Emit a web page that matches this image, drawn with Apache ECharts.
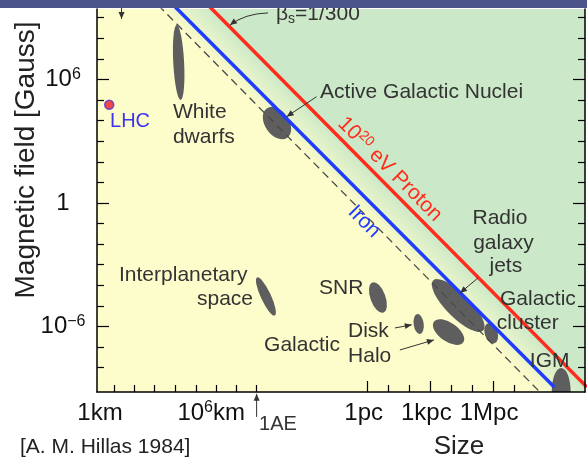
<!DOCTYPE html>
<html>
<head>
<meta charset="utf-8">
<script src="https://cdn.jsdelivr.net/npm/echarts@6.0.0/dist/echarts.min.js"></script>
<style>
html,body{margin:0;padding:0;background:#ffffff;}
#chart{width:587px;height:459px;}
</style>
</head>
<body>
<div id="chart"></div>
<script>
// Axes in log10 units: x = log10(size / km), y = log10(B / Gauss)
const xRange = [0.536, 23.89];
const yRange = [-9.18, 9.42];

const xMinorTicks = [1.36, 2.32, 3.28, 4.27, 5.27, 6.23, 7.19, 8.175, 14.49, 15.49, 17.49, 18.49, 20.49];
const xMajorTicks = [13.49, 16.49, 19.49];
const xLabelValues = [0.68, 6, 13.49, 16.49, 19.49];
const xLabelTexts = ['1km', '10^6km', '1pc', '1kpc', '1Mpc'];

const yMinorTicks = [-8, -7, -5, -4, -3, -2, -1, 1, 2, 3, 4, 5, 7, 8, 9];
const yMajorTicks = [-6, 0, 6];
const yLabelTexts = ['10^−6', '1', '10^6'];

// Limit lines (B proportional to 1/R), endpoints in log units
const protonLine = [[5.86, 9.6], [23.98, -8.94]];
const ironLine = [[4.20, 9.6], [22.37, -8.89]];
const betaLine = [[3.47, 9.6], [21.75, -9.2]];

// Objects: centre (log size, log B), half extents (decades), tilt (deg)
const objectNames = ['White dwarfs', 'Active Galactic Nuclei', 'Interplanetary space', 'SNR', 'Disk', 'Halo', 'Radio galaxy jets', 'Galactic cluster', 'IGM'];
const objectLogSize = [4.445, 9.15, 8.62, 13.98, 15.93, 17.36, 17.82, 19.40, 22.75];
const objectLogB = [6.82, 3.88, -4.54, -4.59, -5.88, -6.27, -4.98, -6.33, -9.13];
const objectHalfSize = [0.26, 0.57, 0.24, 0.36, 0.24, 0.45, 0.57, 0.31, 0.45];
const objectHalfB = [1.82, 0.87, 1.02, 0.78, 0.49, 0.87, 1.72, 0.51, 1.12];
const objectTilt = [3, 35, 25, 20, 8, 55, 45, 18, 0];

const lhcPoint = [1.12, 4.77];

// Annotations anchored in data coordinates
const notes = [
  {t: 'LHC', at: [1.16, 3.98], color: '#3d33ee', size: 20},
  {t: 'White', at: [4.17, 4.40]},
  {t: 'dwarfs', at: [4.17, 3.19]},
  {t: 'Active Galactic Nuclei', at: [11.21, 5.39]},
  {t: 'Interplanetary', at: [1.59, -3.50]},
  {t: 'space', at: [5.32, -4.66]},
  {t: 'SNR', at: [11.16, -4.13]},
  {t: 'Disk', at: [12.55, -6.22]},
  {t: 'Halo', at: [12.55, -7.43]},
  {t: 'Galactic', at: [8.53, -6.90]},
  {t: 'Radio', at: [19.82, -0.73], align: 'center'},
  {t: 'galaxy', at: [19.99, -1.94], align: 'center'},
  {t: 'jets', at: [20.10, -3.06], align: 'center'},
  {t: 'Galactic', at: [19.82, -4.66]},
  {t: 'cluster', at: [19.67, -5.83]},
  {t: 'IGM', at: [21.25, -7.67]},
  {t: '{n|10}{s|20}{n| eV Proton}', at: [14.55, 1.64], align: 'center', rot: -45, color: '#ff2b1c'},
  {t: 'Iron', at: [13.32, -0.91], align: 'center', rot: -45, color: '#1f3cff'},
  {t: '{n|β}{u|s}{n|=1/300}', at: [9.10, 9.18]},
  {t: '1AE', at: [8.29, -10.78], size: 20}
];
const arrows = [
  {from: [11.04, 5.16], to: [9.61, 4.19]},
  {from: [18.77, -3.64], to: [17.91, -4.37]},
  {from: [14.79, -6.07], to: [15.60, -5.92]},
  {from: [15.03, -7.14], to: [16.66, -6.65]},
  {from: [8.175, -10.39], to: [8.175, -9.27]},
  {from: [1.71, 9.7], to: [1.71, 8.94]},
  {from: [8.72, 9.23], via: [7.62, 9.20], to: [6.90, 8.64]}
];

const FONT = '"Liberation Sans", Arial, Helvetica, sans-serif';
const TXT = '#333333';

function richPow(t, base) {
  const m = t.match(/^(.*?)10\^([−\-]?\d+)(.*)$/);
  if (!m) return '{' + base + '|' + t + '}';
  let s = '';
  if (m[1]) s += '{' + base + '|' + m[1] + '}';
  s += '{' + base + '|10}{s|' + m[2] + '}';
  if (m[3]) s += '{' + base + '|' + m[3] + '}';
  return s;
}
const axisRich = {
  b: {fontSize: 24, lineHeight: 26, fontFamily: FONT, color: '#111'},
  p: {fontSize: 24, lineHeight: 26, fontFamily: FONT, color: '#111', padding: [0, 8, 0, 0]},
  s: {fontSize: 16, lineHeight: 20, fontFamily: FONT, color: '#111', verticalAlign: 'top'}
};
const noteRich = {
  n: {fontSize: 21, lineHeight: 24, fontFamily: FONT},
  s: {fontSize: 14, lineHeight: 16, fontFamily: FONT, verticalAlign: 'top'},
  u: {fontSize: 14, lineHeight: 14, fontFamily: FONT, verticalAlign: 'bottom'}
};

function lineEnds(api, line, ext) {
  const a = api.coord(line[0]), b = api.coord(line[1]);
  const dx = b[0] - a[0], dy = b[1] - a[1], l = Math.hypot(dx, dy);
  const ux = dx / l, uy = dy / l;
  return {a: [a[0] - ux * ext, a[1] - uy * ext], b: [b[0] + ux * ext, b[1] + uy * ext], ux: ux, uy: uy};
}
function head(tip, dirx, diry, len, half, color) {
  const l = Math.hypot(dirx, diry), ux = dirx / l, uy = diry / l;
  const bx = tip[0] - ux * len, by = tip[1] - uy * len;
  return {type: 'polygon', shape: {points: [tip, [bx - uy * half, by + ux * half], [bx + uy * half, by - ux * half]]}, style: {fill: color}};
}

const chart = echarts.init(document.getElementById('chart'), null, {renderer: 'canvas', width: 587, height: 459});

const axisLineStyle = {color: '#000', width: 1.5};
const tickStyle = {color: '#000', width: 1.2};
const X = {type: 'value', min: xRange[0], max: xRange[1], splitLine: {show: false}, z: 6};
const Y = {type: 'value', min: yRange[0], max: yRange[1], splitLine: {show: false}, z: 6};

const option = {
  animation: false,
  backgroundColor: '#ffffff',
  grid: {left: 97, right: 2, top: 9, bottom: 67, containLabel: false, outerBoundsMode: 'none',
         show: true, backgroundColor: '#fdfccb', borderWidth: 0},
  xAxis: [
    Object.assign({}, X, {
      position: 'bottom',
      axisLine: {show: true, onZero: false, lineStyle: axisLineStyle},
      axisTick: {show: true, inside: true, length: 7, customValues: xMinorTicks, lineStyle: tickStyle},
      axisLabel: {show: true, customValues: xLabelValues, margin: 8, rich: axisRich,
        formatter: function (v) {
          const i = xLabelValues.findIndex(function (x) { return Math.abs(x - v) < 1e-6; });
          if (i < 0) return '';
          const t = xLabelTexts[i];
          return richPow(t, /pc$/.test(t) ? 'p' : 'b');
        }}
    }),
    Object.assign({}, X, {
      position: 'bottom',
      axisLine: {show: false, onZero: false},
      axisTick: {show: true, inside: true, length: 11, customValues: xMajorTicks, lineStyle: tickStyle},
      axisLabel: {show: false}
    })
  ],
  yAxis: [
    Object.assign({}, Y, {
      position: 'left',
      axisLine: {show: true, onZero: false, lineStyle: axisLineStyle},
      axisTick: {show: true, inside: true, length: 7, customValues: yMinorTicks, lineStyle: tickStyle},
      axisLabel: {show: true, customValues: yMajorTicks, margin: 34, align: 'center', rich: axisRich,
        formatter: function (v) {
          const i = yMajorTicks.findIndex(function (x) { return Math.abs(x - v) < 1e-6; });
          return i < 0 ? '' : richPow(yLabelTexts[i], 'b');
        }}
    }),
    Object.assign({}, Y, {
      position: 'left',
      axisLine: {show: false, onZero: false},
      axisTick: {show: true, inside: true, length: 12, customValues: yMajorTicks, lineStyle: tickStyle},
      axisLabel: {show: false}
    }),
    Object.assign({}, Y, {
      position: 'right',
      axisLine: {show: true, onZero: false, lineStyle: axisLineStyle},
      axisTick: {show: true, inside: true, length: 7, customValues: yMinorTicks.concat([-9]).filter(function(v){return v>-9;}), lineStyle: tickStyle},
      axisLabel: {show: false}
    }),
    Object.assign({}, Y, {
      position: 'right',
      axisLine: {show: false, onZero: false},
      axisTick: {show: true, inside: true, length: 12, customValues: yMajorTicks, lineStyle: tickStyle},
      axisLabel: {show: false}
    })
  ],
  series: [
    {
      type: 'custom', name: 'regions', z: 1, clip: true, silent: true,
      data: [[xRange[0], yRange[0]]],
      renderItem: function (params, api) {
        const r = lineEnds(api, protonLine, 400);
        const d = lineEnds(api, betaLine, 400);
        const nx = r.uy, ny = -r.ux;
        const far = 3000;
        const green = {type: 'polygon', shape: {points: [r.a, r.b,
          [r.b[0] + nx * far, r.b[1] + ny * far], [r.a[0] + nx * far, r.a[1] + ny * far]]},
          style: {fill: '#cbe8c8'}};
        const mid = [(d.a[0] + d.b[0]) / 2, (d.a[1] + d.b[1]) / 2];
        const dist = (r.a[0] - mid[0]) * nx + (r.a[1] - mid[1]) * ny;
        const g = new echarts.graphic.LinearGradient(mid[0], mid[1], mid[0] + nx * dist, mid[1] + ny * dist,
          [{offset: 0, color: '#fbfbca'}, {offset: 1, color: '#cbe8c8'}], true);
        const band = {type: 'polygon', shape: {points: [d.a, d.b, r.b, r.a]}, style: {fill: g}};
        return {type: 'group', children: [band, green]};
      }
    },
    {
      type: 'custom', name: 'objects', z: 2, clip: true, silent: true,
      data: objectLogSize.map(function (x, i) { return [x, objectLogB[i]]; }),
      renderItem: function (params, api) {
        const i = params.dataIndex;
        const c = api.coord([objectLogSize[i], objectLogB[i]]);
        const s = api.size([1, 1]);
        return {type: 'circle', shape: {cx: 0, cy: 0, r: 1}, x: c[0], y: c[1],
          scaleX: objectHalfSize[i] * s[0], scaleY: objectHalfB[i] * s[1],
          rotation: objectTilt[i] * Math.PI / 180, style: {fill: '#5e5e5e'}};
      }
    },
    {type: 'line', name: 'beta', z: 3, data: betaLine, showSymbol: false, symbol: 'none', clip: true, silent: true,
      lineStyle: {color: '#4a4a4a', width: 1.3, type: [8, 5]}},
    {type: 'line', name: 'Iron', z: 3, data: ironLine, showSymbol: false, symbol: 'none', clip: true, silent: true,
      lineStyle: {color: '#1f3cff', width: 3.5, cap: 'round'}},
    {type: 'line', name: 'Proton', z: 3, data: protonLine, showSymbol: false, symbol: 'none', clip: true, silent: true,
      lineStyle: {color: '#ff2b1c', width: 3.5}},
    {type: 'scatter', name: 'LHC', z: 4, data: [lhcPoint], symbolSize: 9, silent: true,
      itemStyle: {color: '#ee1c2a', borderColor: '#5a35d0', borderWidth: 1.5}},
    {
      type: 'custom', name: 'notes', z: 5, clip: false, silent: true,
      data: [[xRange[0], yRange[0]]],
      renderItem: function (params, api) {
        const children = [];
        notes.forEach(function (n) {
          const p = api.coord(n.at);
          const isRich = n.t.indexOf('{') === 0;
          const st = {text: n.t, fill: n.color || TXT, fontSize: n.size || 21, fontFamily: FONT,
            align: n.align || 'left', verticalAlign: 'middle'};
          if (isRich) st.rich = noteRich;
          children.push({type: 'text', x: p[0], y: p[1], rotation: (n.rot || 0) * Math.PI / 180, style: st});
        });
        arrows.forEach(function (a) {
          const f = api.coord(a.from), t = api.coord(a.to);
          if (a.via) {
            const v = api.coord(a.via);
            children.push({type: 'bezierCurve', shape: {x1: f[0], y1: f[1], x2: t[0], y2: t[1], cpx1: v[0], cpy1: v[1]},
              style: {stroke: '#333', lineWidth: 1, fill: null}});
            children.push(head(t, t[0] - v[0], t[1] - v[1], 7, 3, '#333'));
          } else {
            children.push({type: 'line', shape: {x1: f[0], y1: f[1], x2: t[0], y2: t[1]}, style: {stroke: '#333', lineWidth: 1}});
            children.push(head(t, t[0] - f[0], t[1] - f[1], 7, 3, '#333'));
          }
        });
        return {type: 'group', children: children};
      }
    }
  ],
  graphic: [
    {type: 'rect', left: 0, top: 0, z: 100, shape: {width: 587, height: 8}, style: {fill: '#4b558c'}},
    {type: 'text', x: 26, y: 160, rotation: Math.PI / 2, z: 50,
      style: {text: 'Magnetic field [Gauss]', fill: '#222', fontSize: 28, fontFamily: FONT, align: 'center', verticalAlign: 'middle'}},
    {type: 'text', x: 459, y: 447, z: 50,
      style: {text: 'Size', fill: '#222', fontSize: 26, fontFamily: FONT, align: 'center', verticalAlign: 'middle'}},
    {type: 'text', x: 20, y: 447, z: 50,
      style: {text: '[A. M. Hillas 1984]', fill: '#222', fontSize: 21, fontFamily: FONT, align: 'left', verticalAlign: 'middle'}}
  ]
};
chart.setOption(option);
</script>
</body>
</html>
